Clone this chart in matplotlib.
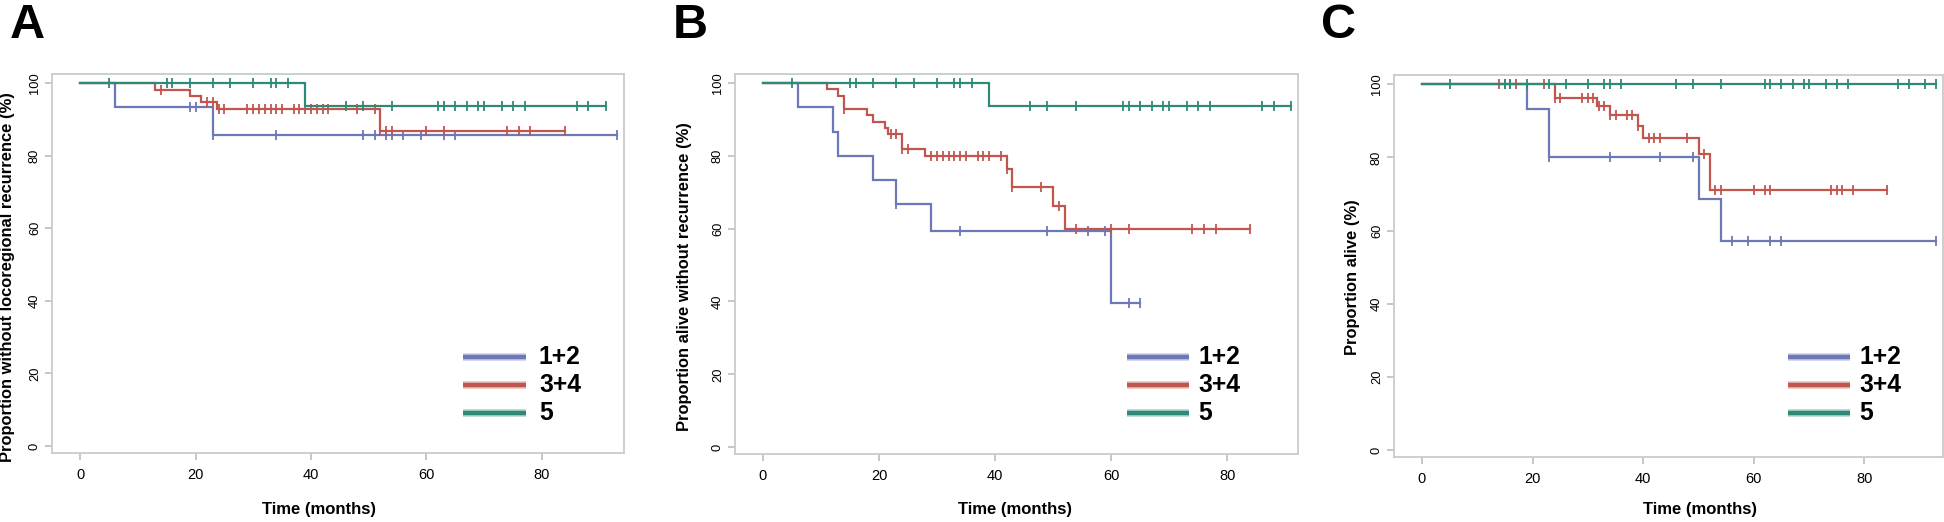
import matplotlib
matplotlib.use("Agg")
import matplotlib.pyplot as plt
import matplotlib.font_manager as fm
from matplotlib.lines import Line2D

# ---------------- data (months, survival %) ----------------
groups = ["1+2", "3+4", "5"]

# Panel A: locoregional recurrence
A_12_t = [6, 23]
A_12_s = [93.3, 85.6]
A_12_c = [19, 20, 23, 34, 49, 51, 53, 54, 56, 59, 63, 65, 93]
A_34_t = [13, 19, 21, 23.8, 52]
A_34_s = [98.2, 96.5, 94.8, 92.8, 86.8]
A_34_c = [14, 22, 23, 24, 25, 29, 30, 31, 32, 33, 34, 35, 37, 38, 39, 40, 41, 42,
          43, 48, 51, 52, 53, 54, 60, 63, 74, 76, 78, 84]
A_5_t = [39]
A_5_s = [93.75]
A_5_c = [5, 15, 16, 19, 23, 26, 30, 33, 34, 36, 46, 49, 54, 62, 63, 65, 67, 69,
         70, 73, 75, 77, 86, 88, 91]

# Panel B: alive without recurrence
B_12_t = [6, 12, 13, 19, 23, 29, 60]
B_12_s = [93.3, 86.7, 80.0, 73.3, 66.7, 59.4, 39.6]
B_12_c = [23, 34, 49, 56, 59, 63, 65]
B_34_t = [11, 13, 14, 18, 19, 21, 21.5, 24, 28, 42, 43, 50, 52]
B_34_s = [98.3, 96.5, 93.0, 91.2, 89.4, 87.6, 85.9, 82.0, 80.0, 76.3, 71.5, 66.2, 60.0]
B_34_c = [14, 22, 23, 24, 25, 29, 30, 31, 32, 33, 34, 35, 37, 38, 39, 41, 42, 43,
          48, 51, 54, 60, 63, 74, 76, 78, 84]
B_5_t = [39]
B_5_s = [93.75]
B_5_c = [5, 15, 16, 19, 23, 26, 30, 33, 34, 36, 46, 49, 54, 62, 63, 65, 67, 69,
         70, 73, 75, 77, 86, 88, 91]

# Panel C: overall survival
C_12_t = [19, 23, 50, 54]
C_12_s = [93.3, 80.0, 68.6, 57.1]
C_12_c = [23, 34, 43, 49, 56, 59, 63, 65, 93]
C_34_t = [24, 31.6, 34, 39, 40, 50, 52]
C_34_s = [96.2, 94.0, 91.7, 88.5, 85.2, 81.0, 71.0]
C_34_c = [14, 15, 16, 17, 22, 24, 25, 29, 30, 31, 32, 33, 34, 35, 37, 38, 39, 41,
          42, 43, 48, 51, 53, 54, 60, 62, 63, 74, 75, 76, 78, 84]
C_5_t = []
C_5_s = []
C_5_c = [5, 15, 16, 19, 23, 26, 30, 33, 34, 36, 46, 49, 54, 62, 63, 65, 67, 69,
         70, 73, 75, 77, 86, 88, 91, 93]

y_ticks = [0, 20, 40, 60, 80, 100]
x_ticks = [0, 20, 40, 60, 80]
panel_letters = ["A", "B", "C"]
y_labels = ["Proportion without locoregional recurrence (%)",
            "Proportion alive without recurrence (%)",
            "Proportion alive (%)"]
x_label = "Time (months)"

# ---------------- style ----------------
colors = ["#6c78b8", "#c0564e", "#2e8a77"]
W, H = 1944, 522
names = {f.name for f in fm.fontManager.ttflist}
narrow = "Liberation Sans Narrow" if "Liberation Sans Narrow" in names else "Liberation Sans"
regular = "Liberation Sans" if "Liberation Sans" in names else "DejaVu Sans"


def fp(size, weight="normal", fam=None):
    return fm.FontProperties(family=[fam or narrow, "DejaVu Sans"], size=size,
                             weight=weight, stretch="condensed")


fig = plt.figure(figsize=(W / 100, H / 100), dpi=100)
renderer = fig.canvas.get_renderer()


def fit_size(text, weight, target_px, start=12.0):
    tmp = fig.text(0, 0, text, fontproperties=fp(start, weight))
    w = tmp.get_window_extent(renderer).width
    tmp.remove()
    return start * target_px / w


ylab_size = fit_size(y_labels[0], "bold", 370)
xlab_size = fit_size(x_label, "bold", 114)
leg_size = fit_size("3+4", "bold", 42)
tick_size = 9.3

# pixel boxes: left, right, top, bottom
boxes = [(52, 624, 74, 453), (735, 1298, 74, 454), (1394, 1943, 75, 457)]
xlims = [(-4.85, 94.2), (-4.8, 92.2), (-5.05, 94.2)]
ylim = (-1.9, 102.5)
letter_pos = [(10, 38), (673, 38), (1321, 38)]
ylab_right = [15, 692, 1360]
ylab_center_y = 277
xlab_center = [319, 1015, 1700]
legend_pos = [(463, 526, 539), (1127, 1189, 1198), (1788, 1850, 1859)]
legend_y = [357, 385, 413]

panels = [
    [(A_12_t, A_12_s, A_12_c), (A_34_t, A_34_s, A_34_c), (A_5_t, A_5_s, A_5_c)],
    [(B_12_t, B_12_s, B_12_c), (B_34_t, B_34_s, B_34_c), (B_5_t, B_5_s, B_5_c)],
    [(C_12_t, C_12_s, C_12_c), (C_34_t, C_34_s, C_34_c), (C_5_t, C_5_s, C_5_c)],
]


def level_at(t, times, levels):
    v = 100.0
    for tt, ll in zip(times, levels):
        if t >= tt:
            v = ll
    return v


spine_col = "#c9cccc"
for i, (box, curves) in enumerate(zip(boxes, panels)):
    l, r, t, b = box
    ax = fig.add_axes([l / W, 1 - b / H, (r - l) / W, (b - t) / H])
    ax.set_xlim(*xlims[i])
    ax.set_ylim(*ylim)
    for sp in ax.spines.values():
        sp.set_color(spine_col)
        sp.set_linewidth(1.3)
    ax.set_xticks(x_ticks)
    ax.set_yticks(y_ticks)
    ax.tick_params(axis="both", direction="out", length=5, width=1.1,
                   color="#b5b8b8", pad=4)
    for lab in ax.get_xticklabels():
        lab.set_fontproperties(fp(tick_size + 1.2))
    for lab in ax.get_yticklabels():
        lab.set_fontproperties(fp(tick_size))
        lab.set_rotation(90)
        lab.set_va("center")
    ax.tick_params(axis="x", pad=6)
    ax.tick_params(axis="y", pad=3)

    order = [2, 0, 1]
    for g in order:
        times, levels, cens = curves[g]
        end = max(cens + times)
        xs = [0] + list(times) + [end]
        ys = [100] + list(levels) + [levels[-1] if levels else 100]
        ax.step(xs, ys, where="post", color=colors[g], lw=1.6, zorder=3 + g * 0.1,
                solid_joinstyle="miter")
        cy = [level_at(c, times, levels) for c in cens]
        ax.plot(cens, cy, ls="none", marker="|", ms=7, mew=1.3, color=colors[g],
                zorder=3 + g * 0.1)

    ax.set_ylabel(y_labels[i], fontproperties=fp(ylab_size, "bold"))
    ax.yaxis.set_label_coords(ylab_right[i] / W, 1 - ylab_center_y / H,
                              transform=fig.transFigure)
    ax.yaxis.label.set_va("bottom")
    ax.set_xlabel(x_label, fontproperties=fp(xlab_size, "bold"))
    ax.xaxis.set_label_coords(xlab_center[i] / W, 1 - 502 / H, transform=fig.transFigure)

    # legend drawn in figure pixel coordinates
    x0, x1, xt = legend_pos[i]
    for g in range(3):
        yy = 1 - legend_y[g] / H
        fig.add_artist(Line2D([x0 / W, x1 / W], [yy, yy], color=colors[g], lw=5.5,
                              alpha=0.35, solid_capstyle="butt"))
        fig.add_artist(Line2D([x0 / W, x1 / W], [yy, yy], color=colors[g], lw=3.2,
                              solid_capstyle="butt"))
        fig.text(xt / W, yy, groups[g], fontproperties=fp(leg_size, "bold"),
                 ha="left", va="center")

    lx, ly = letter_pos[i]
    fig.text(lx / W, 1 - ly / H, panel_letters[i],
             fontproperties=fp(35, "bold", regular), ha="left", va="baseline")

fig.savefig("out.png", dpi=100)
